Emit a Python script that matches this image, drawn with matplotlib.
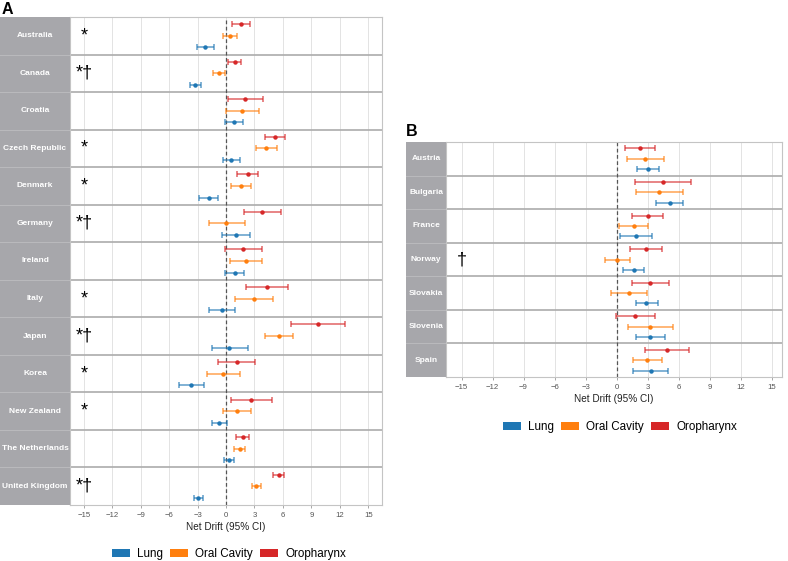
import matplotlib
matplotlib.use("Agg")
import matplotlib.pyplot as plt
from matplotlib.patches import Patch

plt.rcParams['font.family'] = ['Liberation Sans', 'DejaVu Sans']

# ---------------- data ----------------
countries_a = ["Australia", "Canada", "Croatia", "Czech Republic", "Denmark", "Germany",
               "Ireland", "Italy", "Japan", "Korea", "New Zealand", "The Netherlands",
               "United Kingdom"]
marks_a = ["*", "*†", "", "*", "*", "*†", "", "*", "*†", "*", "*", "", "*†"]

oro_a = [1.54, 0.91, 2.04, 5.12, 2.32, 3.79, 1.79, 4.28, 9.65, 1.12, 2.67, 1.75, 5.54]
oro_a_lo = [0.67, 0.21, 0.18, 4.07, 1.19, 1.86, -0.14, 2.14, 6.84, -0.81, 0.56, 1.09, 4.98]
oro_a_hi = [2.53, 1.61, 3.93, 6.25, 3.40, 5.79, 3.82, 6.53, 12.56, 3.05, 4.88, 2.46, 6.14]

oral_a = [0.42, -0.77, 1.72, 4.25, 1.58, 0.04, 2.14, 2.95, 5.58, -0.32, 1.16, 1.44, 3.16]
oral_a_lo = [-0.32, -1.33, 0.00, 3.16, 0.53, -1.82, 0.46, 0.98, 4.07, -2.00, -0.32, 0.88, 2.70]
oral_a_hi = [1.19, -0.07, 3.51, 5.37, 2.67, 2.00, 3.82, 4.98, 7.09, 1.47, 2.67, 2.04, 3.65]

lung_a = [-2.18, -3.23, 0.84, 0.56, -1.79, 1.05, 0.91, -0.42, 0.35, -3.68, -0.70, 0.28, -2.91]
lung_a_lo = [-3.09, -3.82, -0.10, -0.28, -2.81, -0.46, -0.07, -1.82, -1.47, -4.98, -1.51, -0.25, -3.40]
lung_a_hi = [-1.23, -2.60, 1.82, 1.44, -0.81, 2.56, 1.93, 0.98, 2.28, -2.32, 0.11, 0.81, -2.42]

countries_b = ["Austria", "Bulgaria", "France", "Norway", "Slovakia", "Slovenia", "Spain"]
marks_b = ["", "", "", "†", "", "", ""]

oro_b = [2.22, 4.47, 3.02, 2.83, 3.28, 1.80, 4.85]
oro_b_lo = [0.77, 1.77, 1.51, 1.25, 1.51, -0.03, 2.73]
oro_b_hi = [3.69, 7.23, 4.53, 4.43, 5.08, 3.69, 7.04]

oral_b = [2.76, 4.11, 1.64, 0.06, 1.16, 3.24, 2.99]
oral_b_lo = [0.96, 1.90, 0.19, -1.09, -0.58, 1.12, 1.57]
oral_b_hi = [4.59, 6.42, 3.08, 1.32, 2.92, 5.43, 4.40]

lung_b = [3.05, 5.17, 1.90, 1.64, 2.89, 3.24, 3.31]
lung_b_lo = [1.96, 3.85, 0.35, 0.61, 1.83, 1.86, 1.57]
lung_b_hi = [4.14, 6.46, 3.47, 2.67, 3.98, 4.66, 5.01]

series_names = ["Lung", "Oral Cavity", "Oropharynx"]
series_colors = {"Lung": "#1f77b4", "Oral Cavity": "#ff7f0e", "Oropharynx": "#d62728"}
xticks = list(range(-15, 16, 3))

# ---------------- figure ----------------
W, H = 788, 561
fig = plt.figure(figsize=(W / 100, H / 100), dpi=100)


def fx(px):
    return px / W


def fy(py):
    return 1 - py / H


STRIP_COL = "#a7a7ab"
SEP_COL = "#acacac"


def draw_panel(strip_l, panel_l, panel_r, top, bottom, xlim, countries, marks, data):
    n = len(countries)
    ax = fig.add_axes([fx(panel_l), fy(bottom), fx(panel_r - panel_l), (bottom - top) / H])
    sax = fig.add_axes([fx(strip_l), fy(bottom), fx(panel_l - strip_l), (bottom - top) / H])

    offsets = {"Oropharynx": -0.31, "Oral Cavity": 0.0, "Lung": 0.31}
    for name in ["Oropharynx", "Oral Cavity", "Lung"]:
        est, lo, hi = data[name]
        ys = [i + offsets[name] for i in range(n)]
        xerr = [[e - l for e, l in zip(est, lo)], [h - e for e, h in zip(est, hi)]]
        c = series_colors[name]
        ax.errorbar(est, ys, xerr=xerr, fmt='none', ecolor=c, elinewidth=1.1,
                    capsize=2.5, capthick=1.1, alpha=0.72, zorder=3)
        ax.plot(est, ys, 'o', color=c, ms=2.2, zorder=4)

    for i in range(n - 1):
        ax.axhline(i + 0.5, color=SEP_COL, lw=1.2, zorder=2)
    ax.axvline(0, color="#555555", lw=0.9, ls=(0, (3, 2)), zorder=2.5)

    for i, m in enumerate(marks):
        if m:
            ax.text(-15, i, m, ha='center', va='center', fontsize=13, color='black', zorder=5)

    ax.set_xlim(*xlim)
    ax.set_ylim(n - 0.5, -0.5)
    ax.set_yticks([])
    ax.set_xticks(xticks)
    ax.set_xticklabels([("\u2212" + str(-t)) if t < 0 else str(t) for t in xticks])
    ax.tick_params(axis='x', length=2.5, width=0.6, color="#999999", labelsize=5.6,
                   labelcolor="#555555", pad=2.5)
    ax.grid(axis='x', color="#e3e3e3", lw=0.7, zorder=0)
    ax.set_axisbelow(True)
    for s in ax.spines.values():
        s.set_color("#c4c4c4")
        s.set_linewidth(0.8)
    ax.set_xlabel("Net Drift (95% CI)", fontsize=7.2, color="#222222", labelpad=2)

    sax.set_facecolor(STRIP_COL)
    sax.set_xlim(0, 1)
    sax.set_ylim(n - 0.5, -0.5)
    sax.set_xticks([])
    sax.set_yticks([])
    for s in sax.spines.values():
        s.set_visible(False)
    for i in range(n - 1):
        sax.axhline(i + 0.5, color="#b9b9bc", lw=0.8)
    for i, c in enumerate(countries):
        sax.text(0.5, i, c, ha='center', va='center', color='white', fontsize=6.0,
                 fontweight='bold')
    return ax


data_a = {"Lung": (lung_a, lung_a_lo, lung_a_hi),
          "Oral Cavity": (oral_a, oral_a_lo, oral_a_hi),
          "Oropharynx": (oro_a, oro_a_lo, oro_a_hi)}
data_b = {"Lung": (lung_b, lung_b_lo, lung_b_hi),
          "Oral Cavity": (oral_b, oral_b_lo, oral_b_hi),
          "Oropharynx": (oro_b, oro_b_lo, oro_b_hi)}

draw_panel(0, 70, 382, 17, 505, (-16.45, 16.45), countries_a, marks_a, data_a)
draw_panel(406, 446, 782, 142, 377, (-16.5, 16.0), countries_b, marks_b, data_b)

fig.text(fx(2), fy(2), "A", fontsize=11.5, fontweight='bold', ha='left', va='top')
fig.text(fx(406), fy(124), "B", fontsize=11.5, fontweight='bold', ha='left', va='top')

handles = [Patch(facecolor=series_colors[s], edgecolor='none', label=s) for s in series_names]
for cx, cy in [(229, 554), (620, 427)]:
    fig.legend(handles=handles, loc='center', bbox_to_anchor=(fx(cx), fy(cy)), ncol=3,
               frameon=False, fontsize=8.4, handlelength=1.55, handleheight=0.75,
               handletextpad=0.6, columnspacing=0.6, borderpad=0.2)

fig.savefig("out.png", dpi=100, facecolor='white')
